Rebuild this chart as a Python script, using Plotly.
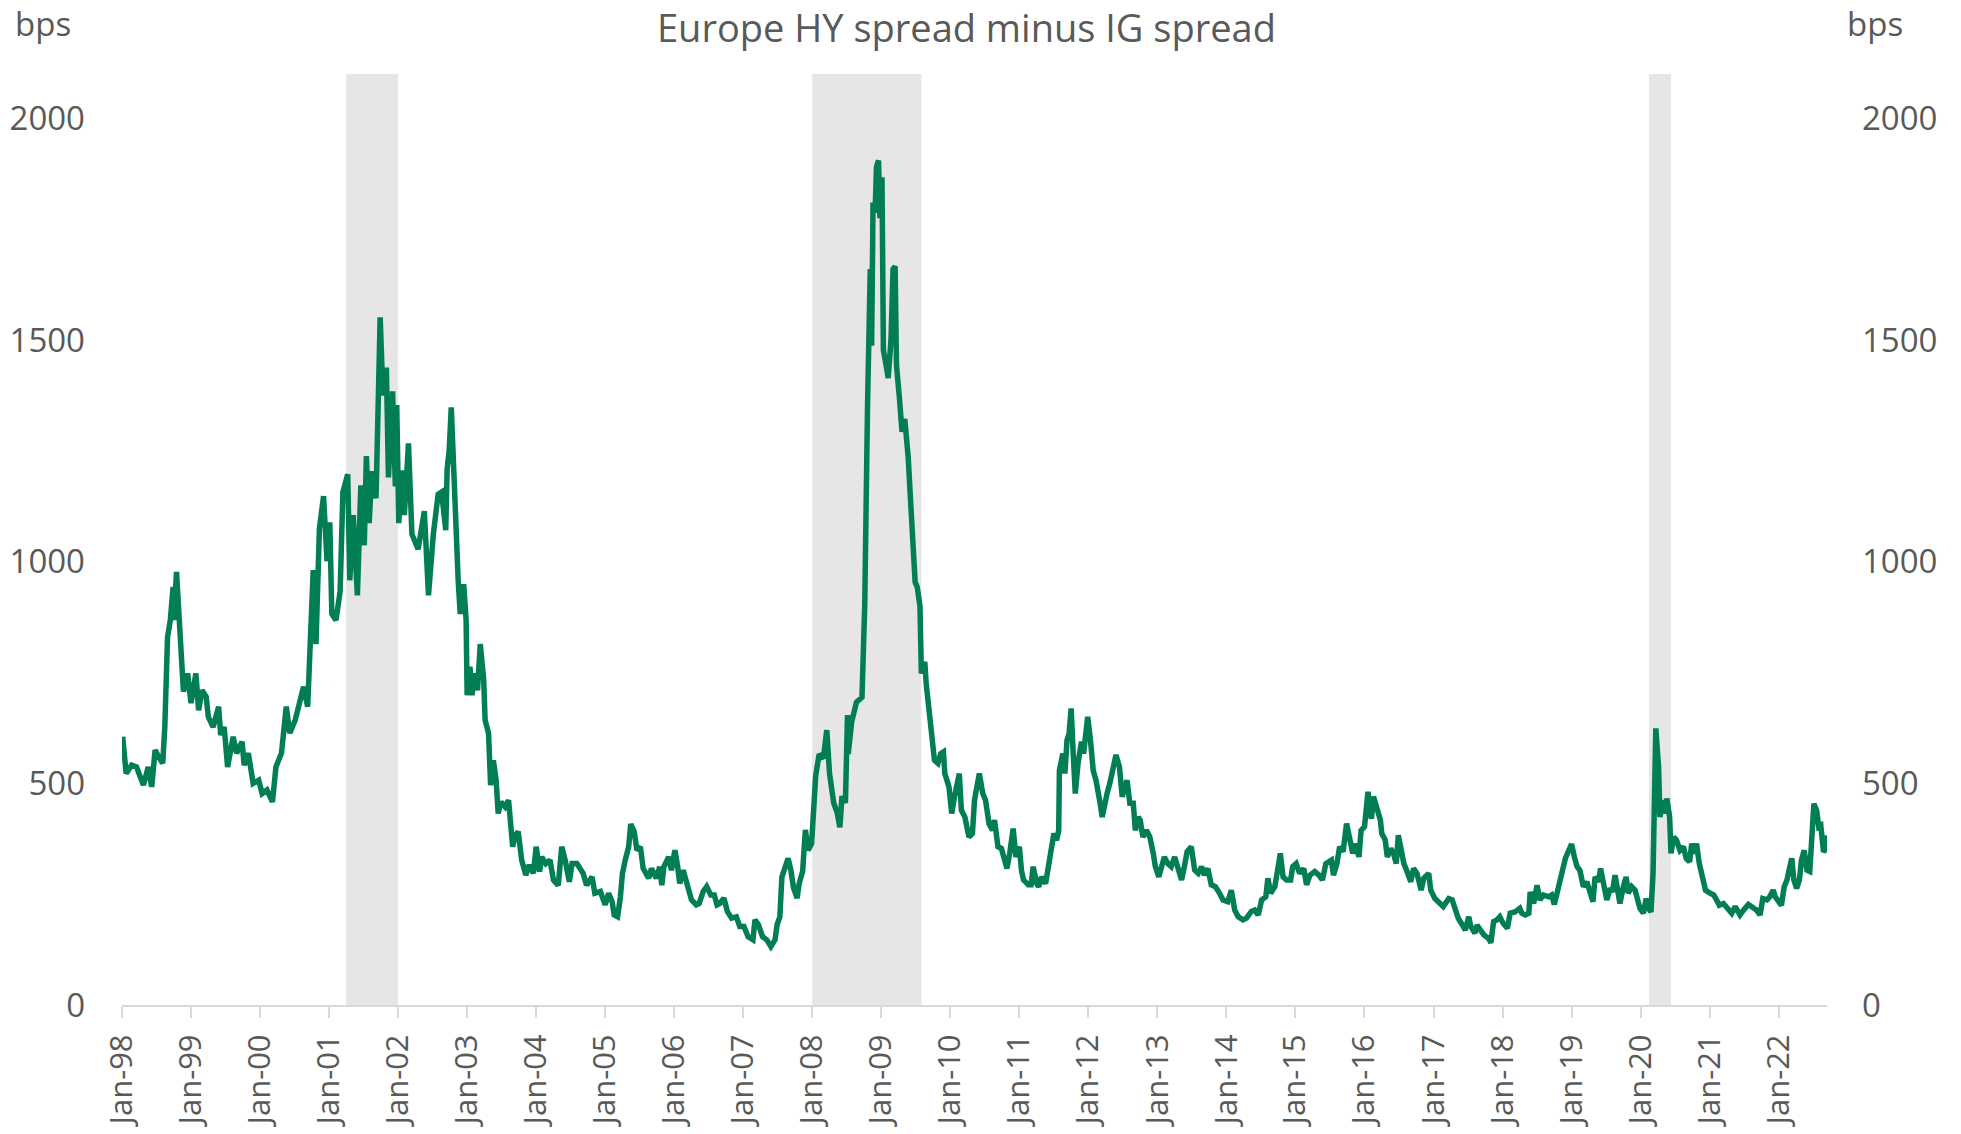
import pandas as pd
import plotly.graph_objects as go

TITLE = "Europe HY spread minus IG spread"
UNIT = "bps"

# Decimal-year positions and spread values (bps)
YEARS = [
 1998.01,1998.06,1998.14,1998.21,1998.31,1998.38,1998.43,1998.48,1998.53,1998.59,
 1998.62,1998.66,1998.70,1998.74,1998.75,1998.79,1998.83,1998.87,1998.89,1998.95,
 1999.00,1999.07,1999.11,1999.16,1999.22,1999.25,1999.32,1999.40,1999.43,1999.48,
 1999.53,1999.61,1999.66,1999.74,1999.77,1999.83,1999.90,1999.98,2000.03,2000.10,
 2000.18,2000.23,2000.31,2000.38,2000.43,2000.51,2000.58,2000.63,2000.69,
 2000.72,2000.77,2000.81,2000.86,2000.92,2000.97,2001.01,2001.04,2001.10,2001.16,
 2001.20,2001.27,2001.30,2001.35,2001.41,2001.46,2001.51,2001.54,2001.58,2001.62,
 2001.68,2001.71,2001.74,2001.78,2001.83,2001.86,2001.92,2001.96,2001.98,2002.01,
 2002.05,2002.09,2002.15,2002.20,2002.29,2002.38,2002.44,2002.51,2002.58,2002.63,
 2002.69,2002.71,2002.74,2002.77,2002.81,2002.84,2002.87,2002.90,2002.95,2002.985,
 2003.00,2003.04,2003.07,2003.11,2003.15,2003.19,2003.24,2003.26,2003.31,2003.34,
 2003.38,2003.42,2003.45,2003.49,2003.55,2003.60,2003.66,2003.69,2003.74,2003.79,
 2003.85,2003.90,2003.96,2004.00,2004.05,2004.08,2004.14,2004.20,2004.25,2004.32,
 2004.37,2004.42,2004.48,2004.52,2004.59,2004.68,2004.73,2004.81,2004.85,2004.93,
 2005.00,2005.05,2005.10,2005.13,2005.18,2005.22,2005.25,2005.29,2005.34,2005.37,
 2005.42,2005.46,2005.51,2005.55,2005.63,2005.67,2005.74,2005.79,2005.82,2005.85,
 2005.92,2005.96,2006.01,2006.05,2006.08,2006.13,2006.19,2006.25,2006.32,2006.36,
 2006.42,2006.47,2006.53,2006.58,2006.62,2006.66,2006.72,2006.77,2006.83,2006.90,
 2006.95,2007.01,2007.07,2007.14,2007.17,2007.22,2007.28,2007.34,2007.40,2007.46,
 2007.49,2007.53,2007.56,2007.61,2007.65,2007.69,2007.73,2007.78,2007.81,2007.86,
 2007.90,2007.94,2007.99,2008.05,2008.10,2008.16,2008.21,2008.25,2008.31,2008.36,
 2008.40,2008.43,2008.48,2008.51,2008.52,2008.57,2008.64,2008.72,2008.74,2008.76,
 2008.80,2008.81,2008.84,2008.86,2008.88,2008.91,2008.93,2008.96,2008.98,2009.01,
 2009.03,2009.07,2009.10,2009.14,2009.17,2009.20,2009.22,2009.26,2009.30,2009.34,
 2009.39,2009.43,2009.46,2009.49,2009.52,2009.56,2009.58,2009.63,2009.65,2009.71,
 2009.74,2009.77,2009.82,2009.86,2009.90,2009.92,2009.98,2010.02,2010.06,2010.13,
 2010.16,2010.21,2010.27,2010.32,2010.35,2010.39,2010.42,2010.47,2010.51,2010.56,
 2010.61,2010.64,2010.69,2010.74,2010.79,2010.82,2010.86,2010.91,2010.95,2011.00,
 2011.03,2011.06,2011.13,2011.17,2011.20,2011.25,2011.28,2011.32,2011.38,2011.43,
 2011.46,2011.50,2011.54,2011.57,2011.58,2011.63,2011.66,2011.69,2011.72,2011.75,
 2011.78,2011.81,2011.85,2011.90,2011.93,2011.96,2011.99,2012.03,2012.07,2012.11,
 2012.14,2012.17,2012.20,2012.24,2012.27,2012.31,2012.36,2012.40,2012.45,2012.49,
 2012.53,2012.56,2012.60,2012.65,2012.68,2012.72,2012.75,2012.79,2012.84,2012.89,
 2012.94,2012.97,2013.02,2013.06,2013.10,2013.15,2013.20,2013.25,2013.30,2013.35,
 2013.39,2013.43,2013.49,2013.54,2013.59,2013.64,2013.68,2013.73,2013.78,2013.84,
 2013.90,2013.95,2014.02,2014.07,2014.12,2014.17,2014.24,2014.29,2014.36,2014.41,
 2014.46,2014.51,2014.57,2014.60,2014.64,2014.70,2014.75,2014.78,2014.82,2014.87,
 2014.93,2014.96,2015.01,2015.06,2015.12,2015.16,2015.21,2015.28,2015.34,2015.39,
 2015.44,2015.52,2015.55,2015.60,2015.64,2015.69,2015.74,2015.78,2015.83,2015.87,
 2015.92,2015.95,2016.00,2016.05,2016.10,2016.13,2016.18,2016.23,2016.25,2016.30,
 2016.33,2016.38,2016.42,2016.46,2016.49,2016.53,2016.57,2016.61,2016.67,2016.71,
 2016.76,2016.82,2016.86,2016.93,2016.96,2017.02,2017.10,2017.14,2017.22,2017.27,
 2017.31,2017.36,2017.42,2017.46,2017.51,2017.54,2017.60,2017.63,2017.68,2017.73,
 2017.80,2017.83,2017.87,2017.92,2017.96,2018.01,2018.07,2018.11,2018.18,2018.25,
 2018.28,2018.33,2018.38,2018.40,2018.45,2018.50,2018.54,2018.59,2018.67,2018.71,
 2018.75,2018.79,2018.83,2018.87,2018.91,2018.96,2019.00,2019.04,2019.08,2019.12,
 2019.17,2019.22,2019.27,2019.31,2019.34,2019.39,2019.42,2019.46,2019.51,2019.56,
 2019.59,2019.63,2019.67,2019.70,2019.75,2019.79,2019.82,2019.87,2019.92,2019.96,
 2019.99,2020.04,2020.08,2020.11,2020.15,2020.18,2020.22,2020.26,2020.28,2020.32,
 2020.36,2020.38,2020.42,2020.44,2020.48,2020.52,2020.57,2020.62,2020.66,2020.71,
 2020.74,2020.78,2020.81,2020.85,2020.89,2020.94,2021.01,2021.06,2021.10,2021.14,
 2021.20,2021.25,2021.32,2021.37,2021.44,2021.49,2021.56,2021.64,2021.68,2021.73,
 2021.77,2021.83,2021.87,2021.92,2021.95,2022.00,2022.04,2022.08,2022.12,2022.15,
 2022.19,2022.22,2022.26,2022.30,2022.33,2022.37,2022.41,2022.45,2022.48,2022.51,
 2022.55,2022.58,2022.61,2022.65,2022.69,2022.70,
]

SPREAD = [
 605,522,541,537,496,537,492,575,560,545,
 627,830,868,943,868,977,868,771,707,748,
 681,748,665,710,695,650,627,673,609,627,
 537,605,568,594,541,568,500,507,477,485,
 458,537,568,673,613,643,695,718,673,
 814,981,814,1075,1148,1001,1089,882,868,933,
 1157,1197,958,1105,924,1172,1037,1238,1087,1204,
 1143,1438,1551,1375,1438,1190,1384,1170,1353,1087,
 1206,1105,1267,1062,1028,1114,924,1062,1152,1157,
 1071,1208,1251,1348,1199,1019,958,882,949,868,
 699,763,699,748,710,814,733,643,613,496,
 552,507,432,458,447,462,357,380,391,327,
 293,316,297,357,301,334,319,327,282,270,
 357,327,278,319,319,297,270,289,252,256,
 226,252,233,203,199,244,297,327,357,408,
 391,349,357,308,286,308,286,312,270,312,
 334,304,349,312,274,304,274,237,226,229,
 256,267,248,248,226,229,241,211,196,199,
 177,177,154,147,192,181,154,147,132,147,
 181,199,289,312,331,304,263,241,274,301,
 395,349,364,518,566,556,620,522,456,434,
 401,471,456,654,566,638,683,694,781,902,
 1350,1487,1660,1487,1810,1787,1891,1905,1775,1867,
 1477,1443,1414,1500,1660,1666,1443,1373,1293,1322,
 1235,1120,1027,954,943,900,748,774,725,627,
 590,552,545,567,571,522,492,432,470,522,
 439,424,379,387,462,507,522,477,462,409,
 394,417,357,353,327,308,342,398,334,357,
 304,282,271,271,312,274,267,289,274,327,
 357,387,372,394,529,567,522,597,612,669,
 567,477,545,594,567,605,650,597,529,507,
 470,455,424,462,477,500,545,564,537,470,
 492,507,455,455,394,424,417,379,394,379,
 342,312,289,312,334,319,312,334,304,282,
 312,346,357,304,297,312,293,308,271,267,
 252,237,233,259,214,199,192,196,211,214,
 203,237,244,286,252,267,312,342,289,282,
 282,312,319,297,308,271,293,301,293,282,
 319,327,293,319,357,346,409,379,342,364,
 334,394,402,481,420,470,447,417,387,372,
 334,353,342,319,383,349,319,304,278,308,
 297,259,286,297,259,240,225,222,240,237,
 218,195,180,169,199,177,162,180,169,158,
 150,140,188,192,199,184,173,207,210,218,
 207,203,207,255,229,270,237,248,244,248,
 227,252,282,301,331,349,363,334,312,304,
 267,278,252,233,289,278,308,270,237,263,
 255,293,252,229,267,289,252,267,259,229,
 218,207,240,218,210,297,624,537,424,462,
 432,466,424,342,379,372,349,357,331,323,
 364,342,364,319,289,259,252,248,237,225,
 229,218,207,222,203,214,227,218,214,203,
 240,237,244,259,244,233,225,267,282,304,
 331,282,263,282,327,349,304,301,387,454,
 439,402,405,345,356,383,
]

# Recession shading periods (start, end)
SHADE_START = ["2001-04-01", "2008-01-01", "2020-02-15"]
SHADE_END = ["2002-01-01", "2009-08-01", "2020-06-10"]

TICK_YEARS = list(range(1998, 2023))
TICK_LABELS = ["Jan-%02d" % (y % 100) for y in TICK_YEARS]
Y_TICKS = [0, 500, 1000, 1500, 2000]

GREEN = "#027E55"
TEXT = "#595959"
AXIS = "#D9D9D9"
SHADE = "#E6E6E6"
FONT = "Open Sans"

base = pd.Timestamp("1998-01-01")
def to_date(yr):
    return base + pd.to_timedelta((yr - 1998.0) * 365.25, unit="D")

dates = [to_date(y) for y in YEARS]
tickvals = [pd.Timestamp(f"{y}-01-01") for y in TICK_YEARS]

fig = go.Figure()
fig.add_trace(go.Scatter(x=dates, y=SPREAD, mode="lines",
                         line=dict(color=GREEN, width=5.5), showlegend=False,
                         hoverinfo="skip"))
fig.add_trace(go.Scatter(x=[dates[0]], y=[0], yaxis="y2", mode="markers",
                         marker=dict(opacity=0), showlegend=False, hoverinfo="skip"))

for s, e in zip(SHADE_START, SHADE_END):
    fig.add_shape(type="rect", xref="x", yref="paper", x0=s, x1=e, y0=0, y1=1,
                  fillcolor=SHADE, line=dict(width=0), layer="below")

xtickfont = dict(family=FONT, size=31, color=TEXT)
ytickfont = dict(family=FONT, size=33, color=TEXT)
M_L, M_R, M_T, M_B = 122, 134, 74, 129
PLOT_H = 1134 - M_T - M_B
TOP_Y = 1 + M_T / PLOT_H  # paper y of the figure's top edge

fig.update_layout(
    width=1961, height=1134,
    margin=dict(l=M_L, r=M_R, t=M_T, b=M_B),
    paper_bgcolor="white", plot_bgcolor="white",
    font=dict(family=FONT, color=TEXT),
    hovermode=False,
    xaxis=dict(
        type="date", range=[pd.Timestamp("1998-01-01"), to_date(2022.70)],
        tickvals=tickvals, ticktext=TICK_LABELS, tickangle=-90,
        tickfont=xtickfont, showgrid=False, zeroline=False,
        showline=True, linecolor=AXIS, linewidth=2,
        ticks="outside", ticklen=11, tickwidth=2, tickcolor=AXIS,
        ticklabelstandoff=4, automargin=False,
    ),
    yaxis=dict(
        range=[0, 2100], tickvals=Y_TICKS, tickfont=ytickfont,
        showgrid=False, zeroline=False, showline=False, ticks="",
        ticklabelstandoff=36, automargin=False,
    ),
    yaxis2=dict(
        range=[0, 2100], tickvals=Y_TICKS, tickfont=ytickfont,
        overlaying="y", side="right", showgrid=False, zeroline=False,
        showline=False, ticks="", ticklabelstandoff=34, automargin=False,
    ),
    annotations=[
        dict(text=TITLE, xref="paper", yref="paper", x=0.4956, y=TOP_Y,
             xanchor="center", yanchor="top", showarrow=False, borderpad=0,
             font=dict(family=FONT, size=38, color=TEXT)),
        dict(text=UNIT, xref="paper", yref="paper", x=-0.0463, y=TOP_Y,
             xanchor="center", yanchor="top", showarrow=False, borderpad=0,
             font=dict(family=FONT, size=33, color=TEXT)),
        dict(text=UNIT, xref="paper", yref="paper", x=1.0282, y=TOP_Y,
             xanchor="center", yanchor="top", showarrow=False, borderpad=0,
             font=dict(family=FONT, size=33, color=TEXT)),
    ],
)

fig.write_html("out.html", config={"displayModeBar": False, "staticPlot": True},
               post_script="document.body.style.margin='0';")
